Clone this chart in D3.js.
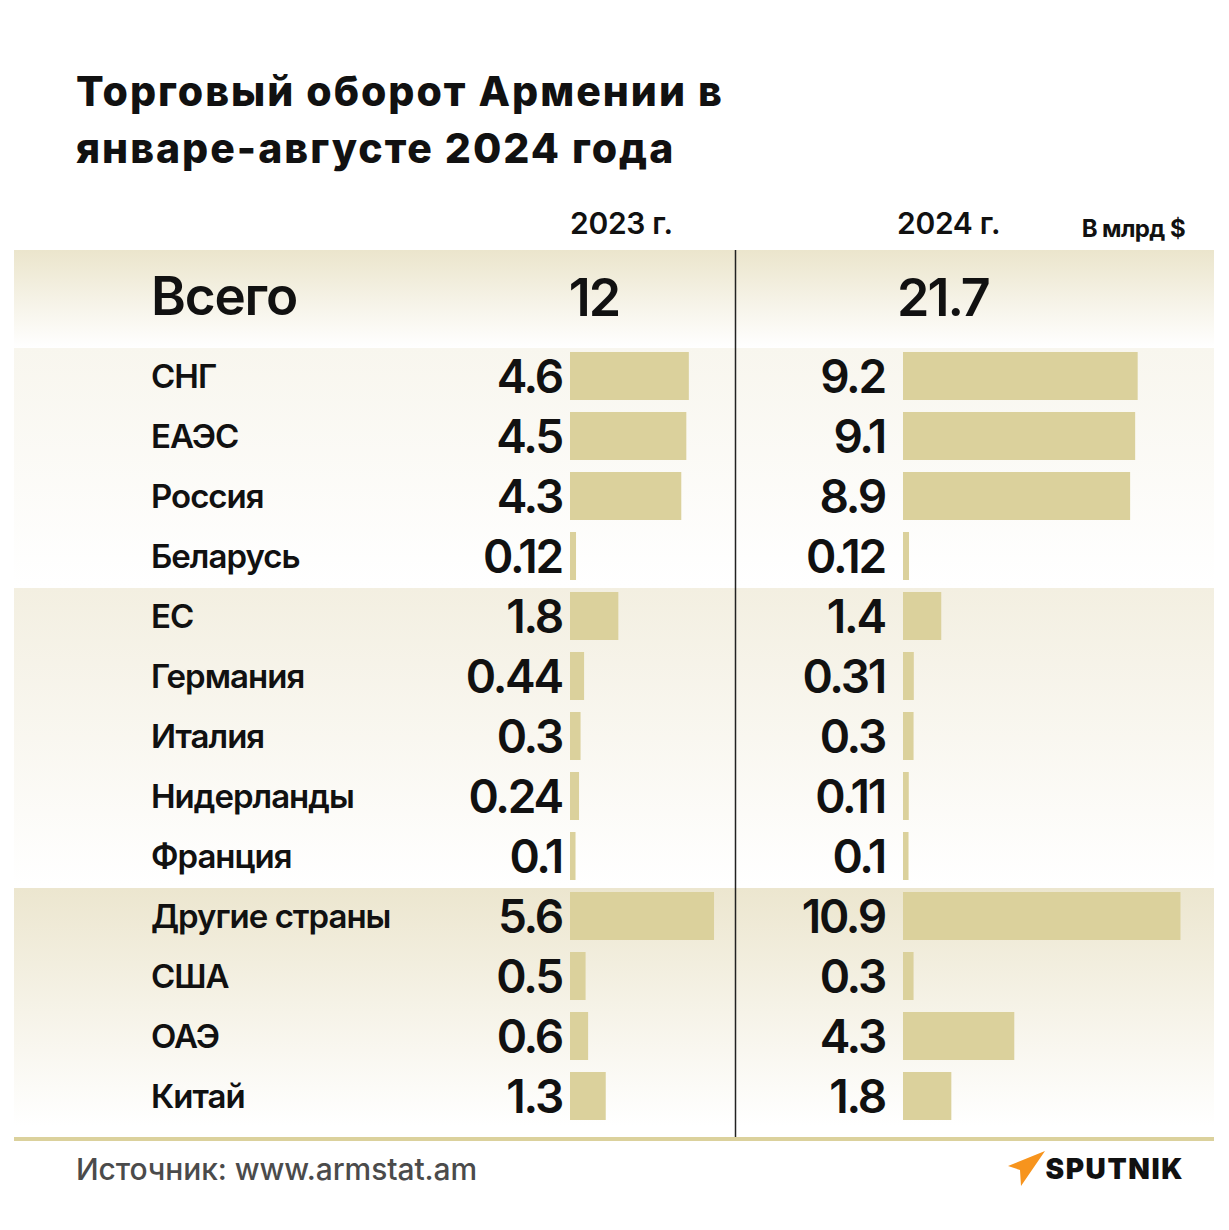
<!DOCTYPE html>
<html><head><meta charset="utf-8">
<script src="https://cdn.jsdelivr.net/npm/d3@7"></script>
<style>
html,body{margin:0;padding:0;background:#fff;}
svg{display:block;}
</style></head>
<body>
<script>
const titleLines = ["Торговый оборот Армении в", "январе-августе 2024 года"];
const yearLabels = ["2023 г.", "2024 г."];
const unitLabel = "В млрд $";
const totalLabel = "Всего";
const totals = [12, 21.7];
const categories = ["СНГ","ЕАЭС","Россия","Беларусь","ЕС","Германия","Италия","Нидерланды","Франция","Другие страны","США","ОАЭ","Китай"];
const values2023 = [4.6, 4.5, 4.3, 0.12, 1.8, 0.44, 0.3, 0.24, 0.1, 5.6, 0.5, 0.6, 1.3];
const values2024 = [9.2, 9.1, 8.9, 0.12, 1.4, 0.31, 0.3, 0.11, 0.1, 10.9, 0.3, 4.3, 1.8];
const groups = [{start:"СНГ", end:"Беларусь"},{start:"ЕС", end:"Франция"},{start:"Другие страны", end:"Китай"}];
const sourceText = "Источник: www.armstat.am";

const W = 1229, H = 1230;
const svg = d3.select("body").append("svg").attr("width", W).attr("height", H);
const defs = svg.append("defs");
const FONT = "Inter, 'Noto Sans', sans-serif";
const barColor = "#dbd19c";

function grad(id, top, bottom){
  const g = defs.append("linearGradient").attr("id", id).attr("x1",0).attr("y1",0).attr("x2",0).attr("y2",1);
  g.append("stop").attr("offset","0%").attr("stop-color", top);
  g.append("stop").attr("offset","100%").attr("stop-color", bottom);
}
grad("gHead", "#ebe5cc", "#ffffff");
const bandTopColors = ["#f8f6ee", "#f3efe1", "#ece6cf"];
bandTopColors.forEach((c,i)=>grad("gBand"+i, c, "#ffffff"));

// Title
svg.append("g").selectAll("text").data(titleLines).join("text")
  .attr("x", 76).attr("y", (d,i)=>106 + i*57)
  .attr("font-family", FONT).attr("font-weight", 800).attr("font-size", 41)
  .attr("letter-spacing", 2.0)
  .attr("fill", "#111").text(d=>d);

// Row scale
const y = d3.scaleBand().domain(categories).range([346, 1126]).paddingInner(0.2).paddingOuter(0.1);
const xL = d3.scaleLinear().domain([0, 11]).range([3, 280]);
const left0 = 570, right0 = 903;
const bw = v => Math.max(5, xL(v));

// Header band
svg.append("rect").attr("x", 14).attr("y", 250).attr("width", 1200).attr("height", 98).attr("fill", "url(#gHead)");

// Group bands
const bandTops = groups.map(g => y(g.start) - (y.step()-y.bandwidth())/2);
const bandBottoms = groups.map(g => y(g.end) + y.bandwidth() + (y.step()-y.bandwidth())/2);
svg.append("g").selectAll("rect").data(groups).join("rect")
  .attr("x", 14).attr("width", 1200)
  .attr("y", (d,i)=>bandTops[i]+2)
  .attr("height", (d,i)=>bandBottoms[i]-bandTops[i]-2)
  .attr("fill", (d,i)=> `url(#gBand${i})`);

// header texts
svg.append("text").attr("x", 570).attr("y", 234).attr("font-family", FONT).attr("font-weight", 600)
  .attr("font-size", 30).attr("letter-spacing", -0.3).attr("fill","#111").text(yearLabels[0]);
svg.append("text").attr("x", 897).attr("y", 234).attr("font-family", FONT).attr("font-weight", 600)
  .attr("font-size", 30).attr("letter-spacing", -0.3).attr("fill","#111").text(yearLabels[1]);
svg.append("text").attr("x", 1185).attr("y", 237).attr("text-anchor","end").attr("font-family", FONT).attr("font-weight", 700)
  .attr("font-size", 24).attr("letter-spacing", -0.6).attr("fill","#111").text(unitLabel);

// Total row
svg.append("text").attr("x", 151).attr("y", 315).attr("font-family", FONT).attr("font-weight", 600)
  .attr("font-size", 53).attr("letter-spacing", -1.2).attr("fill","#111").text(totalLabel);
svg.append("text").attr("x", 594).attr("y", 316).attr("text-anchor","middle").attr("font-family", FONT).attr("font-weight", 600)
  .attr("font-size", 52).attr("letter-spacing", -2).attr("fill","#111").text(totals[0]);
svg.append("text").attr("x", 897).attr("y", 316).attr("font-family", FONT).attr("font-weight", 600)
  .attr("font-size", 52).attr("letter-spacing", -2).attr("fill","#111").text(totals[1]);

// Rows
const rows = svg.append("g").selectAll("g").data(categories).join("g")
  .attr("transform", d=>`translate(0,${y(d)})`);
const bh = y.bandwidth();
rows.append("text").attr("x", 151).attr("y", bh/2 + 12)
  .attr("font-family", FONT).attr("font-weight", 600).attr("font-size", 33).attr("letter-spacing", -1.0)
  .attr("fill","#111").text(d=>d);
rows.append("rect").attr("x", left0).attr("y", 0).attr("height", bh)
  .attr("width", (d,i)=>bw(values2023[i])).attr("fill", barColor);
rows.append("rect").attr("x", right0).attr("y", 0).attr("height", bh)
  .attr("width", (d,i)=>bw(values2024[i])).attr("fill", barColor);
rows.append("text").attr("x", 562).attr("y", bh/2 + 17).attr("text-anchor","end")
  .attr("font-family", FONT).attr("font-weight", 600).attr("font-size", 46).attr("letter-spacing", -2.2)
  .attr("fill","#111").text((d,i)=>values2023[i]);
rows.append("text").attr("x", 885).attr("y", bh/2 + 17).attr("text-anchor","end")
  .attr("font-family", FONT).attr("font-weight", 600).attr("font-size", 46).attr("letter-spacing", -2.2)
  .attr("fill","#111").text((d,i)=>values2024[i]);

// Divider
svg.append("line").attr("x1", 735.5).attr("x2", 735.5).attr("y1", 250).attr("y2", 1137)
  .attr("stroke", "#222").attr("stroke-width", 1.5);

// Bottom rule
svg.append("rect").attr("x", 14).attr("y", 1137).attr("width", 1200).attr("height", 4).attr("fill", barColor);

// Source
svg.append("text").attr("x", 76).attr("y", 1180).attr("font-family", FONT).attr("font-weight", 500)
  .attr("font-size", 30).attr("letter-spacing", -0.1).attr("fill", "#4b4b4b").text(sourceText);

// Sputnik logo
svg.append("path").attr("d", "M1008,1166 L1045,1151 L1021,1186 L1020,1170 Z").attr("fill", "#f7941d");
svg.append("text").attr("x", 1184).attr("y", 1179).attr("text-anchor","end").attr("font-family", FONT).attr("font-weight", 900)
  .attr("font-size", 28).attr("letter-spacing", 1.6).attr("fill", "#111").text("SPUTNIK");
</script>
</body></html>
